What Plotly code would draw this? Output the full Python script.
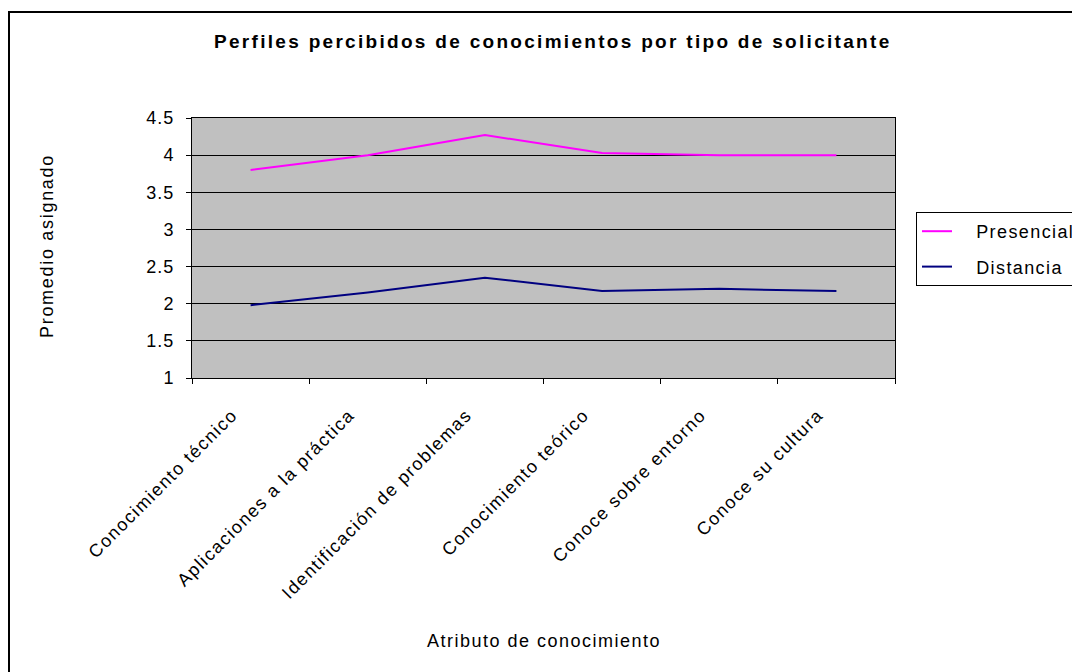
import plotly.graph_objects as go

categories = ["Conocimiento técnico", "Aplicaciones a la práctica", "Identificación de problemas",
              "Conocimiento teórico", "Conoce sobre entorno", "Conoce su cultura"]
presencial = [3.8, 4.0, 4.27, 4.03, 4.0, 4.0]
distancia = [1.98, 2.15, 2.35, 2.17, 2.2, 2.17]
y_ticks = [1, 1.5, 2, 2.5, 3, 3.5, 4, 4.5]
y_ticklabels = ["1", "1.5", "2", "2.5", "3", "3.5", "4", "4.5"]

W, H = 1080, 672
OFF = 8  # page body margin
# plot area in page pixels
PX0, PX1, PY0, PY1 = 192, 895, 118, 378
L = PX0 - OFF
T = PY0 - OFF
R = W - (PX1 - OFF)
B = H - (PY1 - OFF)
pw, ph = PX1 - PX0, PY1 - PY0
NB = "\u00a0"


def px(x):
    return (x - PX0) / pw


def py(y):
    return (PY1 - y) / ph


def sp(text, ls):
    return '<span style="letter-spacing:%.1fpx">%s</span>' % (ls, text)


fig = go.Figure()
fig.add_trace(go.Scatter(x=categories, y=presencial, mode="lines", name=sp(NB * 3 + "Presencial", 1.4),
                         legendgroup="a", line=dict(color="#FF00FF", width=2)))
fig.add_trace(go.Scatter(x=categories, y=distancia, mode="lines", name=sp(NB * 3 + "Distancia", 1.4),
                         legendgroup="b", line=dict(color="#000080", width=2)))

font = "Arial, Liberation Sans, sans-serif"
fig.update_layout(
    width=W, height=H,
    margin=dict(l=L, r=R, t=T, b=B, autoexpand=False),
    paper_bgcolor="white", plot_bgcolor="#C0C0C0",
    font=dict(family=font, size=18, color="black"),
    showlegend=True,
    legend=dict(x=px(916), y=py(212), xanchor="left", yanchor="top",
                bordercolor="black", borderwidth=1, bgcolor="white",
                font=dict(size=18), tracegroupgap=9, entrywidth=170,
                traceorder="grouped"),
    xaxis=dict(type="category", tickmode="array", tickvals=categories,
               ticktext=[sp(c + NB * 4, 1.5) for c in categories],
               range=[-0.5, len(categories) - 0.5],
               tickangle=-45, showgrid=False, ticks="outside",
               tickson="boundaries", ticklen=5, tickcolor="black",
               showline=True, linecolor="black", linewidth=1, mirror=True,
               tickfont=dict(size=18), zeroline=False),
    yaxis=dict(range=[1, 4.5], tickvals=y_ticks, ticktext=[sp(t, 1.0) for t in y_ticklabels],
               ticks="outside", ticklen=5, tickcolor="black", ticklabelstandoff=8,
               showgrid=True, gridcolor="black", gridwidth=1,
               showline=True, linecolor="black", linewidth=1, mirror=True,
               tickfont=dict(size=18), zeroline=False),
    annotations=[
        dict(text="<b>" + sp("Perfiles percibidos de conocimientos por tipo de solicitante", 2.3) + "</b>",
             x=px(553), y=py(42), xref="paper", yref="paper", showarrow=False,
             xanchor="center", yanchor="middle", font=dict(size=19)),
        dict(text=sp("Promedio asignado", 1.7), x=px(47), y=py(246), xref="paper", yref="paper",
             showarrow=False, textangle=-90, xanchor="center", yanchor="middle", font=dict(size=18)),
        dict(text=sp("Atributo de conocimiento", 1.5), x=px(544), y=py(641), xref="paper", yref="paper",
             showarrow=False, xanchor="center", yanchor="middle", font=dict(size=18)),
    ],
    shapes=[
        dict(type="rect", xref="paper", yref="paper", x0=px(9), x1=px(1200), y0=py(800), y1=py(12),
             line=dict(color="black", width=2), layer="below"),
    ],
)

fig.write_html("out.html")
